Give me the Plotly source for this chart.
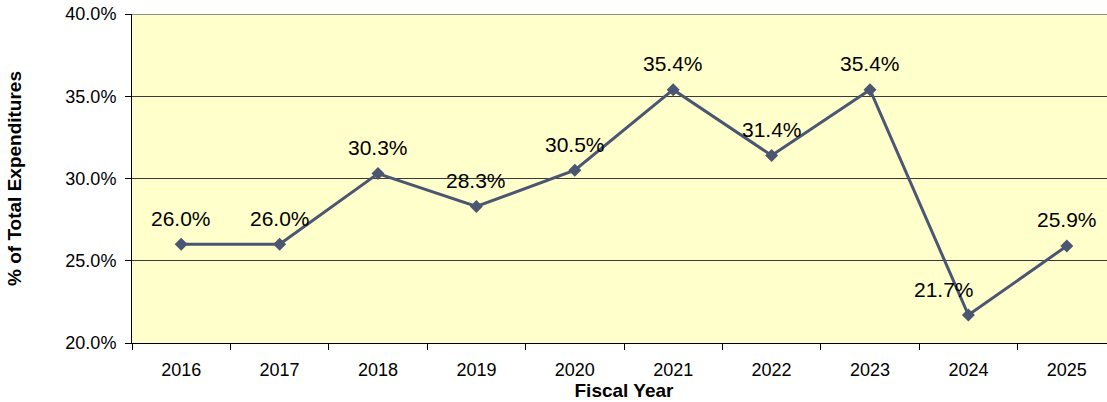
import plotly.graph_objects as go

years = ["2016", "2017", "2018", "2019", "2020", "2021", "2022", "2023", "2024", "2025"]
values = [26.0, 26.0, 30.3, 28.3, 30.5, 35.4, 31.4, 35.4, 21.7, 25.9]
labels = [f"{v:.1f}%" for v in values]
y_ticks = [20, 25, 30, 35, 40]
label_xshift = {"2024": -24}

LINE = "#4a5672"
GRID = "#3a3a3a"
FONT = "Liberation Sans, Arial"

fig = go.Figure()
fig.add_trace(go.Scatter(
    x=years, y=values, mode="lines+markers",
    line=dict(color=LINE, width=3),
    marker=dict(symbol="diamond", size=10, color=LINE),
    cliponaxis=False, hoverinfo="skip",
))
for i, (yr, v, lab) in enumerate(zip(years, values, labels)):
    fig.add_annotation(
        x=i, y=v, text=lab, showarrow=False,
        yshift=26, xshift=label_xshift.get(yr, 0),
        font=dict(family=FONT, size=21, color="black"),
    )

# top gridline at the last y tick (plotly omits it at the range edge)
fig.add_shape(type="line", xref="paper", x0=0, x1=1, yref="y",
              y0=y_ticks[-1], y1=y_ticks[-1], line=dict(color="#6a6a6a", width=1.5),
              layer="above")

# The reference plot area runs past the right edge of the picture.
fig.update_layout(
    width=1116, height=402,
    margin=dict(l=132, r=0, t=14, b=59),
    paper_bgcolor="white", plot_bgcolor="#FFFFCC",
    showlegend=False,
    font=dict(family=FONT, color="black"),
)
fig.update_xaxes(
    type="category", categoryarray=years, range=[-0.5, len(years) - 0.5],
    tickson="boundaries", ticks="outside", ticklen=6,
    tickcolor="black", showline=True, linecolor="black", linewidth=1,
    showgrid=False, tickfont=dict(size=18), tickangle=0, ticklabelstandoff=10,
    title=dict(text="<b>Fiscal Year</b>", font=dict(size=19), standoff=2),
)
fig.update_yaxes(
    range=[20, 40], tickvals=y_ticks, ticktext=[f"{t:.1f}%" for t in y_ticks],
    ticks="outside", ticklen=6, tickcolor="black",
    showline=True, linecolor="black", linewidth=1,
    showgrid=True, gridcolor=GRID, gridwidth=1,
    tickfont=dict(size=18), ticklabelstandoff=5,
    title=dict(text="<b>% of Total Expenditures</b>", font=dict(size=19), standoff=38),
)

fig.write_html(
    "out.html",
    config={"displayModeBar": False},
    post_script=(
        "document.body.style.margin='0';"
        "document.body.style.overflow='hidden';"
        "document.documentElement.style.overflow='hidden';"
    ),
)
